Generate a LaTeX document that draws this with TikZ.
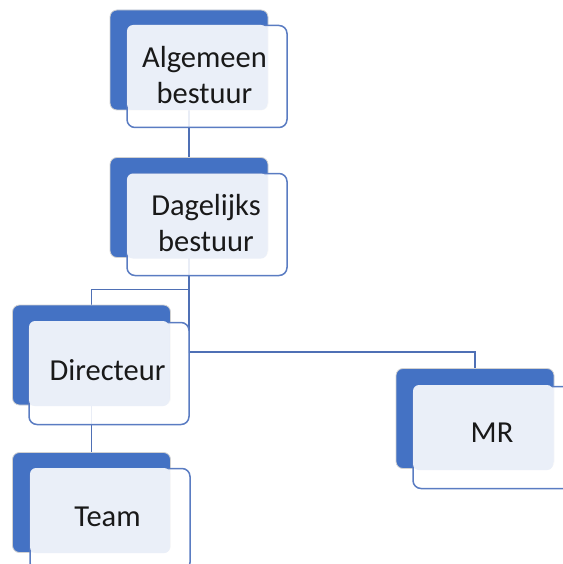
\documentclass[tikz,border=0pt]{standalone}
\usepackage{fontspec}
\setmainfont{Carlito}
\definecolor{dkblue}{HTML}{4472C4}
\definecolor{bord}{HTML}{5A7CC2}
\definecolor{panelc}{HTML}{EAEFF8}
\definecolor{linec}{HTML}{4F70B5}
\begin{document}
\begin{tikzpicture}[x=1pt,y=-1pt,
  back/.style={fill=dkblue, draw=black!18, line width=0.8pt, rounded corners=7pt, minimum width=158pt, minimum height=100pt, inner sep=0pt},
  front/.style={fill=white, fill opacity=0.88, draw=bord, draw opacity=1, line width=1.5pt, rounded corners=8pt, minimum width=160pt, minimum height=102pt, inner sep=0pt},
  panel/.style={fill=panelc, rounded corners=6pt, minimum width=140pt, minimum height=85pt, inner sep=0pt},
  lbl/.style={font=\fontsize{30.5}{36}\selectfont, align=center, text=black!90, inner sep=0pt},
  conn/.style={draw=linec, line width=1.4pt}]
\useasboundingbox (0,0) rectangle (562,564);
% connectors (behind)
\node[back, draw=none, fill=none] (aback0) at (189,60) {};
\node[back, draw=none, fill=none] (dback0) at (189,207.5) {};
\node[back, draw=none, fill=none] (dirback0) at (91.5,355) {};
\node[back, draw=none, fill=none] (mrback0) at (475,418.5) {};
\node[back, draw=none, fill=none] (tback0) at (91.5,502.5) {};
\draw[conn] (aback0.south) -- (dback0.north);
\draw[conn] (dback0.south) |- ([yshift=15pt]dirback0.north) -- (dirback0.north);
\draw[conn] (dback0.south) |- ([yshift=16pt]mrback0.north) -- (mrback0.north);
\draw[conn] (dirback0.south) -- (tback0.north);
% Algemeen bestuur
\node[back] (aback) at (189,60) {};
\node[front] (afront) at (207,76.5) {};
\node[panel] (apanel) at (197,67.5) {};
\node[lbl] (atext) at (204.5,75) {Algemeen\\bestuur};
% Dagelijks bestuur
\node[back] (dback) at (189,207.5) {};
\node[front] (dfront) at (207,224.5) {};
\node[panel] (dpanel) at (197,216) {};
\node[lbl] (dtext) at (206,223) {Dagelijks\\bestuur};
% Directeur
\node[back] (dirback) at (91.5,355) {};
\node[front] (dirfront) at (109,373.5) {};
\node[panel] (dirpanel) at (99,363.5) {};
\node[lbl] (dirtext) at (107.5,370) {Directeur};
% MR
\node[back] (mrback) at (475,418.5) {};
\node[front] (mrfront) at (493,437.5) {};
\node[panel] (mrpanel) at (483,427.5) {};
\node[lbl] (mrtext) at (492,433) {MR};
% Team
\node[back] (tback) at (91.5,502.5) {};
\node[front] (tfront) at (110,519.5) {};
\node[panel] (tpanel) at (100,510.5) {};
\node[lbl] (ttext) at (107.5,517) {Team};
\end{tikzpicture}
\end{document}
